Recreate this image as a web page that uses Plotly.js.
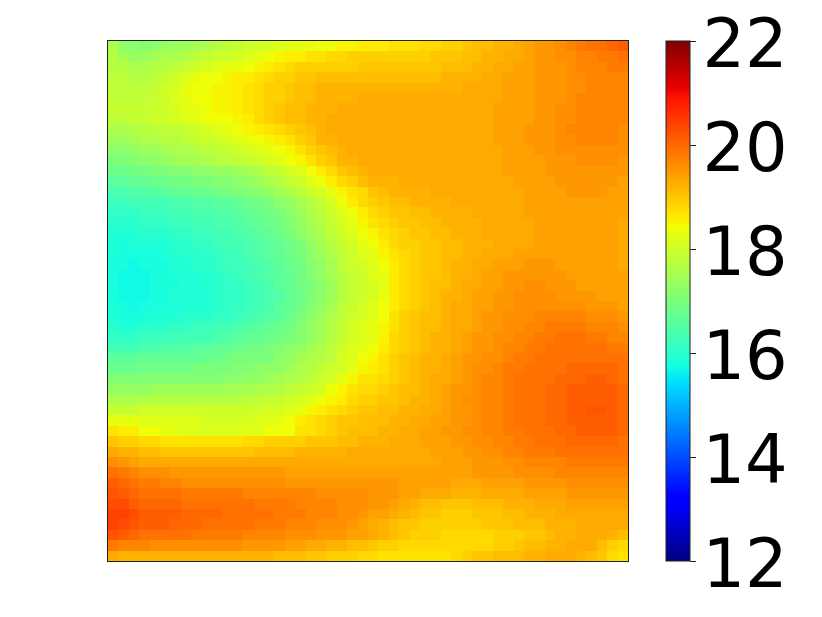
<!DOCTYPE html>
<html>
<head>
<meta charset="utf-8">
<script src="https://cdn.plot.ly/plotly-3.0.1.min.js"></script>
<style>html,body{margin:0;padding:0;background:#fff}</style>
</head>
<body>
<div id="plot" style="width:822px;height:617px"></div>
<script>
// values, top row first
let zValues = [
[17.6,17.2,17.2,17.1,17.2,17.3,17.4,17.4,17.5,17.6,17.7,17.8,17.9,18.0,18.0,18.1,18.2,18.2,18.3,18.3,18.4,18.4,18.5,18.5,18.6,18.6,18.6,18.7,18.7,18.7,18.8,18.8,18.9,18.9,19.0,19.1,19.1,19.2,19.2,19.3,19.4,19.5,19.5,19.6,19.7,19.8,19.9,19.9,20.0,20.1],
[17.7,17.5,17.3,17.4,17.5,17.6,17.6,17.7,17.8,17.9,18.0,18.0,18.1,18.2,18.3,18.4,18.5,18.6,18.6,18.7,18.7,18.8,18.8,18.9,18.9,18.9,18.9,18.9,18.9,18.9,18.9,19.0,19.0,19.0,19.1,19.1,19.2,19.2,19.3,19.3,19.4,19.5,19.5,19.6,19.6,19.7,19.7,19.8,19.8,19.9],
[17.7,17.7,17.6,17.6,17.7,17.7,17.8,17.9,18.0,18.1,18.2,18.3,18.3,18.4,18.5,18.6,18.7,18.8,18.9,18.9,18.9,18.9,18.9,18.9,19.0,19.0,19.0,19.0,19.0,19.0,19.0,19.0,19.1,19.1,19.1,19.2,19.2,19.3,19.3,19.4,19.4,19.5,19.5,19.5,19.6,19.7,19.7,19.7,19.8,19.8],
[17.8,17.8,17.7,17.7,17.8,17.9,18.0,18.2,18.3,18.4,18.4,18.5,18.6,18.6,18.7,18.8,18.9,18.9,19.0,19.0,19.1,19.1,19.1,19.1,19.1,19.1,19.1,19.1,19.1,19.1,19.1,19.1,19.2,19.2,19.2,19.2,19.3,19.3,19.4,19.4,19.4,19.5,19.5,19.5,19.6,19.6,19.7,19.7,19.7,19.7],
[17.8,17.8,17.8,17.8,17.9,18.0,18.1,18.3,18.4,18.4,18.5,18.5,18.6,18.7,18.8,18.9,18.9,19.0,19.1,19.1,19.2,19.2,19.2,19.2,19.2,19.2,19.2,19.2,19.2,19.2,19.2,19.2,19.2,19.2,19.3,19.3,19.3,19.3,19.4,19.4,19.4,19.5,19.5,19.5,19.6,19.6,19.7,19.7,19.7,19.7],
[17.9,17.8,17.8,17.9,17.9,18.0,18.2,18.3,18.4,18.4,18.5,18.5,18.6,18.7,18.8,18.9,18.9,19.0,19.1,19.1,19.2,19.2,19.2,19.2,19.3,19.3,19.3,19.3,19.3,19.3,19.3,19.3,19.3,19.3,19.3,19.3,19.3,19.3,19.4,19.4,19.4,19.5,19.5,19.5,19.6,19.7,19.7,19.7,19.7,19.7],
[17.9,17.9,17.9,17.9,18.0,18.0,18.1,18.3,18.3,18.4,18.5,18.5,18.6,18.7,18.8,18.9,19.0,19.1,19.1,19.2,19.2,19.2,19.3,19.3,19.3,19.3,19.3,19.3,19.3,19.3,19.3,19.3,19.3,19.3,19.3,19.3,19.3,19.4,19.4,19.4,19.4,19.5,19.5,19.6,19.6,19.7,19.7,19.7,19.7,19.7],
[17.8,17.8,17.9,17.9,18.0,18.0,18.1,18.2,18.3,18.4,18.4,18.4,18.5,18.6,18.8,18.9,19.0,19.1,19.1,19.2,19.2,19.3,19.3,19.3,19.3,19.3,19.3,19.3,19.3,19.3,19.3,19.3,19.3,19.3,19.3,19.3,19.3,19.4,19.4,19.4,19.4,19.5,19.5,19.6,19.6,19.7,19.7,19.7,19.7,19.7],
[17.6,17.6,17.7,17.7,17.8,17.8,17.9,17.9,18.0,18.1,18.2,18.3,18.4,18.5,18.6,18.7,18.8,18.9,19.0,19.1,19.2,19.3,19.3,19.3,19.3,19.3,19.3,19.3,19.3,19.3,19.3,19.3,19.3,19.3,19.3,19.3,19.3,19.4,19.4,19.4,19.5,19.5,19.5,19.6,19.7,19.7,19.7,19.7,19.7,19.6],
[17.4,17.4,17.5,17.6,17.6,17.7,17.7,17.8,17.9,18.0,18.0,18.1,18.2,18.3,18.4,18.5,18.6,18.7,18.9,19.0,19.2,19.2,19.3,19.3,19.3,19.3,19.3,19.3,19.3,19.3,19.3,19.3,19.3,19.3,19.3,19.3,19.3,19.4,19.4,19.4,19.5,19.5,19.5,19.6,19.6,19.7,19.7,19.7,19.7,19.6],
[17.2,17.2,17.3,17.4,17.4,17.5,17.6,17.6,17.7,17.8,17.8,17.9,18.0,18.1,18.2,18.3,18.4,18.5,18.7,18.9,19.0,19.1,19.2,19.3,19.3,19.3,19.3,19.3,19.3,19.3,19.3,19.3,19.3,19.3,19.3,19.3,19.3,19.3,19.4,19.4,19.4,19.5,19.5,19.6,19.6,19.6,19.6,19.6,19.6,19.6],
[17.0,17.0,17.1,17.2,17.2,17.3,17.4,17.5,17.5,17.6,17.7,17.8,17.8,17.9,18.0,18.1,18.2,18.4,18.5,18.7,18.9,19.0,19.2,19.2,19.3,19.3,19.3,19.3,19.3,19.3,19.3,19.3,19.3,19.3,19.3,19.3,19.3,19.3,19.4,19.4,19.4,19.4,19.5,19.5,19.5,19.6,19.6,19.6,19.6,19.5],
[16.8,16.8,16.9,16.9,17.0,17.0,17.1,17.1,17.2,17.2,17.3,17.3,17.4,17.5,17.6,17.8,17.9,18.1,18.2,18.4,18.6,18.8,19.0,19.1,19.2,19.3,19.3,19.3,19.3,19.3,19.3,19.3,19.3,19.3,19.3,19.3,19.3,19.3,19.4,19.4,19.4,19.4,19.5,19.5,19.5,19.5,19.5,19.5,19.5,19.5],
[16.6,16.6,16.7,16.7,16.8,16.8,16.9,16.9,17.0,17.0,17.1,17.1,17.2,17.3,17.4,17.6,17.7,17.9,18.0,18.2,18.4,18.6,18.8,18.9,19.1,19.2,19.2,19.2,19.3,19.3,19.3,19.3,19.3,19.3,19.3,19.3,19.3,19.3,19.3,19.4,19.4,19.4,19.4,19.5,19.5,19.5,19.5,19.5,19.5,19.4],
[16.4,16.4,16.5,16.5,16.5,16.6,16.7,16.7,16.8,16.8,16.9,17.0,17.0,17.1,17.2,17.3,17.5,17.6,17.8,18.0,18.1,18.3,18.5,18.7,18.8,19.0,19.1,19.2,19.2,19.2,19.2,19.3,19.3,19.3,19.3,19.3,19.3,19.3,19.3,19.3,19.4,19.4,19.4,19.4,19.5,19.5,19.5,19.5,19.4,19.4],
[16.2,16.2,16.3,16.3,16.3,16.3,16.4,16.4,16.5,16.5,16.6,16.6,16.7,16.8,16.9,17.0,17.2,17.3,17.5,17.7,17.9,18.1,18.4,18.6,18.8,18.9,19.0,19.1,19.1,19.2,19.2,19.2,19.2,19.3,19.3,19.3,19.3,19.3,19.3,19.3,19.4,19.4,19.4,19.4,19.4,19.4,19.4,19.4,19.4,19.4],
[16.1,16.1,16.1,16.2,16.2,16.2,16.3,16.3,16.4,16.4,16.5,16.5,16.6,16.7,16.8,16.9,17.0,17.2,17.4,17.6,17.8,18.0,18.2,18.4,18.6,18.8,18.9,19.0,19.0,19.1,19.1,19.2,19.2,19.2,19.2,19.3,19.3,19.3,19.3,19.3,19.4,19.4,19.4,19.4,19.4,19.4,19.4,19.4,19.4,19.4],
[16.0,16.0,16.0,16.1,16.1,16.1,16.2,16.2,16.3,16.3,16.4,16.4,16.5,16.6,16.7,16.8,16.9,17.1,17.3,17.5,17.7,17.9,18.1,18.3,18.5,18.7,18.8,18.9,19.0,19.0,19.1,19.1,19.2,19.2,19.2,19.2,19.3,19.3,19.3,19.3,19.3,19.4,19.4,19.4,19.4,19.4,19.4,19.4,19.4,19.3],
[15.9,15.9,15.9,16.0,16.0,16.0,16.1,16.1,16.2,16.2,16.3,16.3,16.4,16.5,16.6,16.7,16.8,17.0,17.2,17.4,17.6,17.8,18.0,18.2,18.4,18.5,18.7,18.8,18.9,19.0,19.0,19.1,19.1,19.2,19.2,19.2,19.3,19.3,19.3,19.3,19.3,19.4,19.4,19.4,19.4,19.4,19.4,19.4,19.4,19.3],
[15.9,15.8,15.9,15.9,15.9,15.9,16.0,16.0,16.1,16.1,16.2,16.3,16.3,16.4,16.5,16.6,16.7,16.9,17.0,17.3,17.5,17.7,17.9,18.1,18.3,18.4,18.6,18.8,18.9,18.9,19.0,19.0,19.1,19.1,19.2,19.2,19.2,19.3,19.3,19.3,19.3,19.4,19.4,19.4,19.4,19.4,19.4,19.4,19.4,19.3],
[15.8,15.8,15.8,15.8,15.8,15.9,15.9,16.0,16.0,16.1,16.1,16.2,16.3,16.4,16.5,16.6,16.7,16.8,17.0,17.2,17.4,17.6,17.8,18.0,18.2,18.3,18.5,18.7,18.8,18.9,19.0,19.0,19.1,19.1,19.2,19.2,19.3,19.3,19.3,19.4,19.4,19.4,19.4,19.4,19.4,19.4,19.4,19.4,19.4,19.3],
[15.8,15.8,15.7,15.8,15.8,15.8,15.9,15.9,16.0,16.0,16.1,16.2,16.2,16.3,16.4,16.5,16.6,16.8,16.9,17.1,17.3,17.5,17.8,18.0,18.1,18.2,18.4,18.6,18.8,18.9,19.0,19.0,19.1,19.2,19.2,19.3,19.3,19.4,19.4,19.4,19.5,19.5,19.5,19.4,19.4,19.4,19.4,19.4,19.4,19.3],
[15.8,15.7,15.7,15.7,15.8,15.8,15.9,15.9,15.9,16.0,16.0,16.1,16.2,16.3,16.4,16.5,16.6,16.7,16.9,17.1,17.3,17.5,17.7,17.9,18.0,18.2,18.3,18.6,18.8,18.9,19.0,19.0,19.1,19.2,19.2,19.3,19.4,19.4,19.5,19.5,19.5,19.5,19.5,19.5,19.4,19.4,19.4,19.4,19.4,19.4],
[15.8,15.7,15.7,15.7,15.8,15.8,15.8,15.9,15.9,15.9,16.0,16.1,16.1,16.2,16.3,16.4,16.6,16.7,16.9,17.0,17.2,17.4,17.7,17.9,18.0,18.1,18.3,18.6,18.8,18.9,19.0,19.1,19.1,19.2,19.3,19.3,19.4,19.4,19.5,19.5,19.6,19.6,19.5,19.5,19.5,19.4,19.4,19.4,19.4,19.4],
[15.8,15.7,15.7,15.7,15.8,15.8,15.9,15.9,15.9,15.9,16.0,16.1,16.1,16.2,16.3,16.4,16.5,16.7,16.8,17.0,17.2,17.4,17.7,17.9,18.0,18.1,18.3,18.6,18.8,18.9,19.0,19.1,19.2,19.2,19.3,19.4,19.4,19.5,19.5,19.6,19.6,19.6,19.6,19.5,19.5,19.5,19.5,19.4,19.4,19.4],
[15.8,15.8,15.7,15.8,15.8,15.8,15.9,15.9,15.9,15.9,16.0,16.1,16.1,16.2,16.3,16.4,16.6,16.7,16.9,17.1,17.3,17.5,17.8,17.9,18.1,18.2,18.4,18.6,18.8,18.9,19.0,19.1,19.2,19.3,19.3,19.4,19.4,19.5,19.5,19.6,19.6,19.6,19.6,19.6,19.6,19.6,19.5,19.5,19.5,19.4],
[15.9,15.8,15.8,15.8,15.9,15.9,15.9,16.0,16.0,16.0,16.1,16.1,16.2,16.3,16.4,16.5,16.6,16.8,17.0,17.2,17.4,17.6,17.8,18.0,18.1,18.2,18.4,18.7,18.9,19.0,19.1,19.1,19.2,19.3,19.3,19.4,19.5,19.5,19.6,19.6,19.6,19.7,19.7,19.7,19.7,19.7,19.6,19.6,19.6,19.5],
[16.0,15.9,15.9,16.0,16.0,16.0,16.1,16.1,16.2,16.2,16.3,16.3,16.4,16.5,16.6,16.7,16.8,16.9,17.1,17.3,17.5,17.7,17.9,18.1,18.2,18.3,18.5,18.7,18.9,19.0,19.1,19.1,19.2,19.3,19.3,19.4,19.5,19.5,19.6,19.6,19.7,19.7,19.8,19.8,19.8,19.8,19.7,19.7,19.7,19.6],
[16.1,16.1,16.1,16.2,16.2,16.2,16.3,16.3,16.3,16.3,16.4,16.5,16.6,16.7,16.7,16.8,16.9,17.0,17.1,17.3,17.5,17.7,17.9,18.1,18.2,18.3,18.5,18.8,18.9,19.0,19.1,19.2,19.2,19.3,19.4,19.5,19.5,19.6,19.6,19.7,19.7,19.8,19.8,19.9,19.9,19.9,19.8,19.8,19.7,19.7],
[16.3,16.3,16.3,16.4,16.4,16.5,16.5,16.5,16.6,16.6,16.7,16.7,16.8,16.9,16.9,17.0,17.1,17.2,17.3,17.5,17.6,17.8,18.0,18.2,18.3,18.4,18.6,18.8,18.9,19.0,19.1,19.2,19.2,19.3,19.4,19.5,19.5,19.6,19.7,19.7,19.8,19.8,19.9,19.9,19.9,19.9,19.9,19.9,19.8,19.8],
[16.6,16.6,16.6,16.7,16.7,16.7,16.7,16.7,16.7,16.8,16.8,16.9,17.0,17.0,17.0,17.0,17.2,17.3,17.5,17.6,17.7,17.8,18.1,18.2,18.4,18.5,18.7,18.9,19.0,19.1,19.2,19.2,19.3,19.4,19.5,19.5,19.6,19.6,19.7,19.8,19.8,19.9,19.9,19.9,19.9,19.9,19.9,19.9,19.9,19.9],
[16.8,16.8,16.8,16.9,16.9,16.9,16.9,16.9,17.0,17.0,17.0,17.0,17.1,17.1,17.2,17.2,17.3,17.4,17.6,17.7,17.8,18.0,18.1,18.3,18.5,18.6,18.7,18.9,19.0,19.1,19.2,19.2,19.3,19.4,19.5,19.6,19.6,19.7,19.8,19.8,19.9,19.9,19.9,19.9,20.0,20.0,20.0,20.0,20.0,19.9],
[17.1,17.1,17.1,17.1,17.1,17.1,17.1,17.1,17.1,17.1,17.1,17.2,17.2,17.3,17.3,17.4,17.5,17.6,17.7,17.8,18.0,18.1,18.3,18.5,18.7,18.7,18.8,18.9,19.0,19.1,19.2,19.3,19.3,19.4,19.5,19.6,19.7,19.7,19.8,19.9,19.9,19.9,19.9,20.0,20.0,20.0,20.1,20.1,20.0,19.9],
[17.3,17.3,17.3,17.3,17.4,17.4,17.4,17.4,17.4,17.4,17.4,17.5,17.5,17.5,17.6,17.6,17.7,17.8,17.9,18.0,18.1,18.4,18.5,18.7,18.8,18.8,18.9,19.0,19.1,19.1,19.2,19.3,19.4,19.5,19.5,19.6,19.7,19.7,19.8,19.9,19.9,19.9,20.0,20.0,20.1,20.1,20.1,20.1,20.1,20.0],
[17.6,17.6,17.6,17.7,17.7,17.7,17.7,17.7,17.7,17.7,17.7,17.7,17.7,17.8,17.8,17.9,17.9,18.0,18.1,18.2,18.4,18.5,18.6,18.8,18.9,18.9,19.0,19.0,19.1,19.2,19.2,19.3,19.4,19.5,19.6,19.6,19.7,19.7,19.8,19.9,19.9,19.9,20.0,20.0,20.1,20.1,20.1,20.1,20.1,20.0],
[17.9,17.9,17.9,18.0,18.0,18.0,18.0,18.0,18.0,18.0,18.0,18.0,18.0,18.0,18.0,18.1,18.1,18.2,18.3,18.5,18.6,18.7,18.8,18.9,19.0,19.0,19.1,19.1,19.2,19.2,19.3,19.3,19.4,19.5,19.5,19.6,19.7,19.7,19.8,19.9,19.9,19.9,20.0,20.0,20.1,20.1,20.2,20.2,20.1,20.0],
[18.3,18.3,18.3,18.2,18.2,18.2,18.2,18.2,18.2,18.1,18.1,18.1,18.1,18.1,18.2,18.2,18.3,18.4,18.6,18.7,18.8,18.9,19.0,19.0,19.1,19.1,19.1,19.2,19.2,19.3,19.3,19.4,19.4,19.5,19.5,19.6,19.7,19.7,19.8,19.9,19.9,19.9,20.0,20.0,20.1,20.1,20.1,20.1,20.1,20.0],
[18.7,18.6,18.6,18.4,18.4,18.3,18.3,18.2,18.2,18.2,18.2,18.2,18.2,18.2,18.2,18.4,18.4,18.4,18.7,18.7,18.8,18.9,19.0,19.1,19.1,19.1,19.2,19.2,19.3,19.3,19.4,19.4,19.5,19.5,19.6,19.6,19.7,19.7,19.8,19.8,19.9,19.9,19.9,20.0,20.0,20.1,20.1,20.1,20.1,20.0],
[19.0,18.9,18.9,18.8,18.8,18.7,18.7,18.7,18.7,18.7,18.7,18.7,18.7,18.8,18.8,18.9,18.9,18.9,18.9,19.0,19.0,19.0,19.1,19.1,19.2,19.2,19.2,19.3,19.3,19.3,19.4,19.4,19.4,19.5,19.5,19.6,19.6,19.7,19.7,19.8,19.8,19.9,19.9,19.9,20.0,20.0,20.0,20.0,20.0,19.9],
[19.3,19.2,19.2,19.1,19.1,19.0,19.0,19.0,19.0,19.0,19.0,19.0,19.0,19.0,19.1,19.1,19.1,19.1,19.2,19.2,19.2,19.2,19.2,19.3,19.3,19.3,19.3,19.3,19.3,19.3,19.3,19.4,19.4,19.4,19.5,19.5,19.6,19.6,19.7,19.7,19.8,19.8,19.8,19.9,19.9,19.9,19.9,19.9,19.9,19.9],
[19.6,19.5,19.4,19.3,19.3,19.3,19.3,19.3,19.3,19.3,19.3,19.3,19.3,19.3,19.3,19.3,19.3,19.3,19.3,19.3,19.3,19.3,19.3,19.3,19.3,19.3,19.3,19.3,19.3,19.3,19.3,19.3,19.4,19.4,19.4,19.5,19.5,19.5,19.6,19.6,19.7,19.7,19.7,19.7,19.8,19.8,19.8,19.8,19.8,19.8],
[19.9,19.8,19.7,19.6,19.6,19.6,19.5,19.5,19.5,19.5,19.5,19.5,19.5,19.5,19.5,19.5,19.5,19.4,19.4,19.4,19.4,19.4,19.4,19.4,19.4,19.4,19.4,19.4,19.4,19.4,19.4,19.4,19.4,19.4,19.4,19.5,19.5,19.5,19.5,19.6,19.6,19.6,19.6,19.7,19.7,19.7,19.7,19.7,19.7,19.7],
[20.1,20.0,19.9,19.8,19.8,19.7,19.7,19.6,19.6,19.6,19.6,19.6,19.6,19.6,19.6,19.6,19.6,19.5,19.5,19.5,19.5,19.5,19.5,19.5,19.5,19.5,19.5,19.5,19.4,19.4,19.4,19.4,19.4,19.3,19.3,19.3,19.4,19.4,19.4,19.4,19.5,19.5,19.5,19.5,19.6,19.6,19.6,19.6,19.6,19.6],
[20.2,20.1,20.0,19.9,19.9,19.9,19.9,19.8,19.8,19.8,19.8,19.8,19.8,19.7,19.7,19.7,19.7,19.7,19.7,19.7,19.6,19.6,19.6,19.6,19.6,19.5,19.5,19.5,19.4,19.4,19.3,19.3,19.3,19.2,19.2,19.2,19.3,19.3,19.3,19.3,19.4,19.4,19.4,19.4,19.5,19.5,19.5,19.5,19.5,19.5],
[20.3,20.3,20.1,20.0,20.0,20.0,20.0,19.9,19.9,19.9,19.9,19.9,19.9,19.9,19.8,19.8,19.8,19.8,19.7,19.7,19.7,19.7,19.6,19.6,19.6,19.5,19.5,19.4,19.3,19.2,19.1,19.1,19.0,19.0,19.0,19.1,19.1,19.1,19.2,19.2,19.2,19.3,19.3,19.3,19.4,19.4,19.4,19.4,19.4,19.4],
[20.4,20.4,20.3,20.1,20.1,20.1,20.1,20.0,20.0,20.0,20.0,19.9,19.9,19.9,19.9,19.9,19.8,19.8,19.8,19.7,19.7,19.7,19.6,19.6,19.5,19.4,19.4,19.3,19.2,19.1,19.0,19.0,18.9,18.9,18.9,19.0,19.0,19.0,19.1,19.1,19.2,19.2,19.2,19.3,19.3,19.3,19.3,19.3,19.3,19.3],
[20.4,20.3,20.2,20.1,20.1,20.1,20.0,20.0,20.0,19.9,19.9,19.9,19.9,19.9,19.8,19.8,19.8,19.7,19.7,19.7,19.6,19.6,19.6,19.5,19.4,19.3,19.2,19.1,19.0,19.0,18.9,18.9,18.9,18.9,18.9,18.9,19.0,19.0,19.0,19.1,19.1,19.1,19.2,19.2,19.2,19.3,19.3,19.3,19.3,19.3],
[20.2,20.1,20.0,19.9,19.9,19.9,19.9,19.9,19.8,19.8,19.8,19.8,19.8,19.7,19.7,19.7,19.7,19.6,19.6,19.6,19.5,19.5,19.5,19.4,19.4,19.3,19.2,19.1,19.0,18.9,18.9,18.9,18.8,18.8,18.8,18.8,18.8,18.9,18.9,18.9,19.0,19.0,19.1,19.2,19.2,19.3,19.3,19.3,19.2,19.1],
[19.8,19.7,19.7,19.7,19.6,19.6,19.6,19.6,19.6,19.6,19.6,19.6,19.6,19.5,19.5,19.5,19.5,19.4,19.4,19.3,19.3,19.2,19.2,19.1,19.1,19.0,18.9,18.9,18.8,18.8,18.8,18.8,18.8,18.8,18.8,18.8,18.8,18.9,18.9,19.0,19.1,19.1,19.2,19.2,19.3,19.3,19.3,19.1,18.9,18.8],
[19.3,19.2,19.2,19.2,19.2,19.2,19.2,19.2,19.2,19.2,19.2,19.2,19.2,19.2,19.2,19.2,19.1,19.1,19.1,19.0,19.0,18.9,18.9,18.9,18.8,18.8,18.7,18.7,18.7,18.7,18.7,18.7,18.7,18.8,18.9,19.0,19.0,19.1,19.1,19.1,19.2,19.2,19.3,19.3,19.3,19.2,19.1,19.0,18.8,18.7]
];
let colorbarTicks = [12, 14, 16, 18, 20, 22];
let zMin = 12;
let zMax = 22;

// matplotlib's jet, the plotly built-in one has different stops
let jet = [
    [0, 'rgb(0,0,128)'], [0.11, 'rgb(0,0,255)'], [0.125, 'rgb(0,0,255)'],
    [0.34, 'rgb(0,219,255)'], [0.35, 'rgb(0,230,247)'], [0.375, 'rgb(21,255,226)'],
    [0.64, 'rgb(238,255,8)'], [0.65, 'rgb(247,245,0)'], [0.66, 'rgb(255,236,0)'],
    [0.89, 'rgb(255,19,0)'], [0.91, 'rgb(232,0,0)'], [1, 'rgb(128,0,0)']
];

var trace = {
    z: zValues,
    type: 'heatmap',
    colorscale: jet,
    zmin: zMin,
    zmax: zMax,
    hoverinfo: 'skip',
    colorbar: {
        x: 1.0731,
        xanchor: 'left',
        xpad: 0,
        ypad: 0,
        y: 0.5,
        len: 1,
        thickness: 24,
        outlinewidth: 1,
        outlinecolor: '#222',
        ticks: 'outside',
        ticklen: 6,
        tickwidth: 1,
        tickcolor: '#222',
        tickvals: colorbarTicks,
        ticktext: colorbarTicks.map(String),
        tickfont: { family: 'DejaVu Sans', size: 67, color: '#000' }
    }
};

var axis = {
    showticklabels: false,
    ticks: '',
    showgrid: false,
    zeroline: false,
    showline: true,
    mirror: true,
    linewidth: 1,
    linecolor: '#222'
};

var layout = {
    width: 822,
    height: 617,
    margin: { l: 108, r: 194, t: 41, b: 56 },
    paper_bgcolor: '#fff',
    plot_bgcolor: '#fff',
    xaxis: Object.assign({ range: [-0.5, 49.5] }, axis),
    yaxis: Object.assign({ range: [49.5, -0.5] }, axis)
};

Plotly.newPlot('plot', [trace], layout, { displayModeBar: false, staticPlot: true }).then(function(gd) {
    // nudge the colorbar labels, plotly puts them a bit further right than the reference
    gd.querySelectorAll('.cbaxis text').forEach(function(el) {
        el.setAttribute('transform', 'translate(-7,3) ' + (el.getAttribute('transform') || ''));
    });
});
</script>
</body>
</html>
